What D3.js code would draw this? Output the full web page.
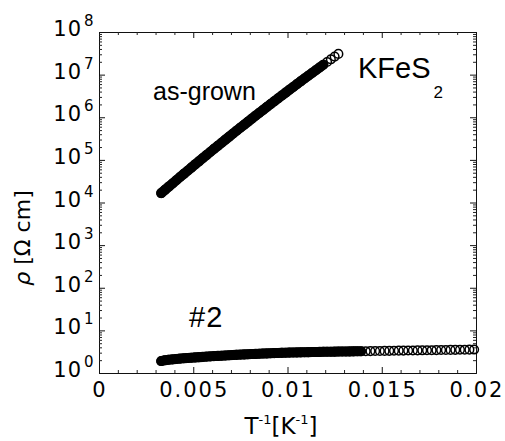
<!DOCTYPE html>
<html>
<head>
<meta charset="utf-8">
<script src="https://cdn.jsdelivr.net/npm/d3@7"></script>
<style>
  html, body { margin: 0; padding: 0; background: #fff; }
  svg { display: block; }
</style>
</head>
<body>
<svg id="chart" width="505" height="441"></svg>
<script>
// ---------------- data ----------------
const xDomain = [0, 0.02];
const yDomain = [1, 1e8];
const xTickValues = [0, 0.005, 0.01, 0.015, 0.02];
const xTickLabels = ["0", "0.005", "0.01", "0.015", "0.02"];
const yTickExponents = [0, 1, 2, 3, 4, 5, 6, 7, 8];

// as-grown: T^-1 [K^-1] and log10(rho [Ohm cm])
const asGrownX = [0.0033,0.0035,0.0037,0.0039,0.0041,0.0043,0.0045,0.0047,0.0049,0.0051,
  0.0053,0.0055,0.0057,0.0059,0.0061,0.0063,0.0065,0.0067,0.0069,0.0071,
  0.0073,0.0075,0.0077,0.0079,0.0081,0.0083,0.0085,0.0087,0.0089,0.0091,
  0.0093,0.0095,0.0097,0.0099,0.0101,0.0103,0.0105,0.0107,0.0109,0.0111,
  0.0113,0.0115,0.0117,0.0119,0.0121,0.0123,0.0125,0.0127];
const asGrownLogRho = [4.220,4.296,4.371,4.447,4.522,4.597,4.671,4.745,4.819,4.893,
  4.966,5.039,5.112,5.185,5.257,5.329,5.401,5.472,5.543,5.614,
  5.685,5.755,5.825,5.895,5.965,6.034,6.103,6.171,6.240,6.308,
  6.376,6.443,6.510,6.577,6.644,6.710,6.777,6.843,6.908,6.973,
  7.038,7.103,7.168,7.232,7.296,7.359,7.423,7.486];

// #2
const sample2X = [0.0033,0.0035,0.0037,0.0039,0.0041,0.0043,0.0045,0.0047,0.0049,0.0051,
  0.0053,0.0055,0.0057,0.0059,0.0061,0.0063,0.0065,0.0067,0.0069,0.0071,
  0.0073,0.0075,0.0077,0.0079,0.0081,0.0083,0.0085,0.0087,0.0089,0.0091,
  0.0093,0.0095,0.0097,0.0099,0.0101,0.0103,0.0105,0.0107,0.0109,0.0111,
  0.0113,0.0115,0.0117,0.0119,0.0121,0.0123,0.0125,0.0127,0.0129,0.0131,
  0.0133,0.0135,0.0137,0.0139,
  0.01415,0.0144,0.01465,0.0149,0.01515,0.0154,0.01565,0.0159,0.01615,0.0164,
  0.01665,0.0169,0.01715,0.0174,0.01765,0.0179,0.01815,0.0184,0.01865,0.0189,
  0.01915,0.0194,0.01965,0.0199];
const sample2LogRho = [0.280,0.300,0.310,0.320,0.329,0.337,0.345,0.352,0.359,0.366,
  0.372,0.378,0.384,0.390,0.396,0.401,0.406,0.411,0.416,0.421,
  0.426,0.431,0.436,0.440,0.444,0.448,0.452,0.456,0.460,0.464,
  0.467,0.470,0.473,0.476,0.479,0.481,0.483,0.485,0.487,0.489,
  0.491,0.493,0.495,0.497,0.498,0.500,0.501,0.503,0.504,0.505,
  0.507,0.508,0.509,0.511,
  0.512,0.514,0.515,0.517,0.519,0.520,0.522,0.524,0.525,0.527,
  0.529,0.530,0.532,0.534,0.535,0.537,0.539,0.540,0.542,0.543,
  0.545,0.547,0.548,0.550];

// ---------------- layout & style ----------------
const M = { left: 99, right: 476, top: 32, bottom: 373 };
const tickFont = "'DejaVu Sans', sans-serif";
const noteFont = "'Liberation Sans', Arial, sans-serif";
const series = [
  { x: asGrownX, logRho: asGrownLogRho, bandUntil: 0.0119 },
  { x: sample2X, logRho: sample2LogRho, bandUntil: 0.0140 }
];

const svg = d3.select("#chart");
const x = d3.scaleLinear().domain(xDomain).range([M.left, M.right]);
const y = d3.scaleLog().domain(yDomain).range([M.bottom, M.top]);

// ---------------- axes (ticks pointing inward) ----------------
const xMinor = d3.range(1, 20).map(i => i * 0.001).filter(v => Math.abs(v * 200 - Math.round(v * 200)) > 1e-9);
const yMinor = [];
for (let e = 0; e < 8; e++) for (let m = 2; m <= 9; m++) yMinor.push(m * Math.pow(10, e));

function xAxis(g, orient) {
  const ax = (orient === "bottom" ? d3.axisBottom(x) : d3.axisTop(x));
  g.call(ax.tickValues(xTickValues).tickSize(-6).tickFormat(""));
  g.call(s => s.selectAll(".tick line").attr("stroke", "#111"));
}
function yAxis(g, orient) {
  const ax = (orient === "left" ? d3.axisLeft(y) : d3.axisRight(y));
  g.call(ax.tickValues(yTickExponents.map(e => Math.pow(10, e))).tickSize(-6).tickFormat(""));
  g.call(s => s.selectAll(".tick line").attr("stroke", "#111"));
}
function xMinorAxis(g, orient) {
  const ax = (orient === "bottom" ? d3.axisBottom(x) : d3.axisTop(x));
  g.call(ax.tickValues(xMinor).tickSize(-3).tickFormat(""));
  g.select(".domain").remove();
  g.selectAll(".tick line").attr("stroke", "#222");
}
function yMinorAxis(g, orient) {
  const ax = (orient === "left" ? d3.axisLeft(y) : d3.axisRight(y));
  g.call(ax.tickValues(yMinor).tickSize(-3).tickFormat(""));
  g.select(".domain").remove();
  g.selectAll(".tick line").attr("stroke", "#222");
}

svg.append("g").attr("transform", `translate(0,${M.bottom})`).call(xAxis, "bottom");
svg.append("g").attr("transform", `translate(0,${M.top})`).call(xAxis, "top");
svg.append("g").attr("transform", `translate(${M.left},0)`).call(yAxis, "left");
svg.append("g").attr("transform", `translate(${M.right},0)`).call(yAxis, "right");
svg.append("g").attr("transform", `translate(0,${M.bottom})`).call(xMinorAxis, "bottom");
svg.append("g").attr("transform", `translate(0,${M.top})`).call(xMinorAxis, "top");
svg.append("g").attr("transform", `translate(${M.left},0)`).call(yMinorAxis, "left");
svg.append("g").attr("transform", `translate(${M.right},0)`).call(yMinorAxis, "right");
svg.selectAll(".domain").attr("stroke", "#111").attr("stroke-width", 1);

// x tick labels
svg.append("g").selectAll("text").data(xTickValues).join("text")
  .attr("x", d => x(d) + 1).attr("y", M.bottom + 24)
  .attr("text-anchor", "middle")
  .attr("font-family", tickFont).attr("font-size", 21).attr("letter-spacing", 2)
  .attr("fill", "#000")
  .text((d, i) => xTickLabels[i]);

// y tick labels 10^n
const yl = svg.append("g").selectAll("g").data(yTickExponents).join("g")
  .attr("transform", e => `translate(82,${y(Math.pow(10, e)) + 4})`);
yl.append("text").attr("text-anchor", "end")
  .attr("font-family", tickFont).attr("font-size", 21).attr("letter-spacing", 1)
  .attr("fill", "#000").text("10");
yl.append("text").attr("x", 2).attr("y", -10)
  .attr("font-family", tickFont).attr("font-size", 15)
  .attr("fill", "#000").text(e => e);

// axis titles
const xt = svg.append("text").attr("x", 281).attr("y", 434).attr("text-anchor", "middle")
  .attr("font-family", tickFont).attr("font-size", 23).attr("fill", "#000");
xt.append("tspan").text("T");
xt.append("tspan").attr("dy", -10).attr("font-size", 13).text("-1");
xt.append("tspan").attr("dy", 10).text("[K");
xt.append("tspan").attr("dy", -10).attr("font-size", 13).text("-1");
xt.append("tspan").attr("dy", 10).text("]");

const yt = svg.append("text").attr("transform", "translate(30,238) rotate(-90)")
  .attr("text-anchor", "middle")
  .attr("font-family", tickFont).attr("font-size", 22).attr("fill", "#000");
yt.append("tspan").attr("font-style", "italic").text("ρ");
yt.append("tspan").text(" [Ω cm]");

// ---------------- data marks ----------------
const plot = svg.append("g");
series.forEach(s => {
  const pts = s.x.map((v, i) => ({ x: v, rho: Math.pow(10, s.logRho[i]) }));
  const bandPts = pts.filter(p => p.x <= s.bandUntil);
  plot.append("path").datum(bandPts)
    .attr("d", d3.line().x(p => x(p.x)).y(p => y(p.rho)))
    .attr("fill", "none").attr("stroke", "#000").attr("stroke-width", 10)
    .attr("stroke-linecap", "round").attr("stroke-linejoin", "round");
  plot.append("g").selectAll("circle").data(pts).join("circle")
    .attr("cx", p => x(p.x)).attr("cy", p => y(p.rho)).attr("r", 4.3)
    .attr("fill", "none").attr("stroke", "#000").attr("stroke-width", 1.5);
});

// ---------------- annotations ----------------
svg.append("text").attr("x", 153).attr("y", 100)
  .attr("font-family", noteFont).attr("font-size", 25).attr("fill", "#000").text("as-grown");
const kt = svg.append("text").attr("x", 358).attr("y", 78)
  .attr("font-family", noteFont).attr("font-size", 29).attr("fill", "#000");
kt.append("tspan").text("KFeS");
kt.append("tspan").attr("dx", 3).attr("dy", 20).attr("font-size", 17).text("2");
svg.append("text").attr("x", 189).attr("y", 327)
  .attr("font-family", noteFont).attr("font-size", 29).attr("letter-spacing", 1)
  .attr("fill", "#000").text("#2");
</script>
</body>
</html>
